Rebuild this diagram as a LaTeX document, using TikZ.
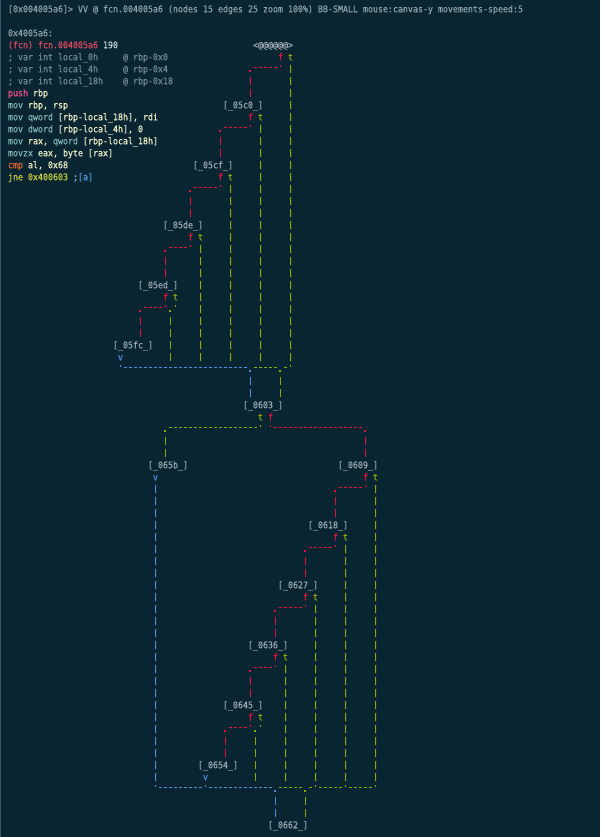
\documentclass[tikz,border=0pt]{standalone}
\usepackage{fontspec}
\newfontfamily\rzmono{DejaVu Sans Mono}[FakeStretch=0.9027,FakeBold=0.4]
\definecolor{bgc}{HTML}{0A2532}
\definecolor{edgec}{HTML}{35596A}
\definecolor{titlec}{HTML}{8FA0A8}
\definecolor{nodegrey}{HTML}{9AA8B0}
\definecolor{commentc}{HTML}{718791}
\definecolor{fcnc}{HTML}{D9485E}
\definecolor{numc}{HTML}{C8D2D6}
\definecolor{pushc}{HTML}{F0508C}
\definecolor{opc}{HTML}{EEF0C8}
\definecolor{movc}{HTML}{7DB3B0}
\definecolor{cmpc}{HTML}{E0622A}
\definecolor{jnec}{HTML}{C4CE3C}
\definecolor{semic}{HTML}{6CB8E8}
\definecolor{refc}{HTML}{4AA2E0}
\definecolor{redc}{HTML}{E0143E}
\definecolor{greenc}{HTML}{8EAA06}
\definecolor{bluec}{HTML}{4A8EDC}
\newcommand\rzH[4]{\draw[#1,hdl] ({#3-0.5},{#2-0.125}) -- ({#4+0.5},{#2-0.125});}
\newcommand\rzDot[3]{\fill[#1] ({#2-0.3},{#3+0.083}) rectangle ({#2+0.1},{#3+0.25});}
\newcommand\rzTick[3]{\draw[#1,tkl] (#2,{#3-0.333}) -- (#2,{#3-0.167});}
\begin{document}
\begin{tikzpicture}[x=5pt,y=-12pt,
  cell/.style={inner sep=0pt,outer sep=0pt,text height=9.25pt,text depth=2.75pt,anchor=north west,font=\rzmono\fontsize{9.2}{12}\selectfont},
  blk/.style={cell,text=nodegrey},
  fl/.style={cell,text=redc},
  tl/.style={cell,text=greenc},
  vl/.style={cell,text=bluec},
  hdl/.style={line width=1pt,dash pattern=on 3.5pt off 1.5pt,dash phase=4.25pt},
  vdl/.style={line width=1pt,dash pattern=on 8pt off 4pt,dash phase=10pt},
  tkl/.style={line width=1pt}]
\useasboundingbox (-2.1,-0.75) rectangle (117.9,69);
\fill[bgc] (-2.1,-0.75) rectangle (117.9,69);
\draw[edgec,line width=1pt] (-2,-0.75) -- (-2,69);
% header (current block)
\node[cell,text=titlec] (h0) at (-0.5,-0.5) {[0x004005a6]> VV @ fcn.004005a6 (nodes 15 edges 25 zoom 100\%) BB-SMALL mouse:canvas-y movements-speed:5};
\node[cell,text=titlec] (h2) at (-0.5,1.5) {0x4005a6:};
\node[cell] (h3) at (-0.5,2.5) {\color{fcnc}(fcn) fcn.004005a6 \color{numc}190};
\node[cell,text=commentc] (h4a) at (-0.5,3.5) {; var int local\_0h};
\node[cell,text=commentc] (h4b) at (22.5,3.5) {@ rbp-0x0};
\node[cell,text=commentc] (h5a) at (-0.5,4.5) {; var int local\_4h};
\node[cell,text=commentc] (h5b) at (22.5,4.5) {@ rbp-0x4};
\node[cell,text=commentc] (h6a) at (-0.5,5.5) {; var int local\_18h};
\node[cell,text=commentc] (h6b) at (22.5,5.5) {@ rbp-0x18};
\node[cell] (h7) at (-0.5,6.5) {\color{pushc}push \color{opc}rbp};
\node[cell] (h8) at (-0.5,7.5) {\color{movc}mov \color{opc}rbp, rsp};
\node[cell] (h9) at (-0.5,8.5) {\color{movc}mov qword \color{opc}[rbp-local\_18h], rdi};
\node[cell] (h10) at (-0.5,9.5) {\color{movc}mov dword \color{opc}[rbp-local\_4h], 0};
\node[cell] (h11) at (-0.5,10.5) {\color{movc}mov \color{opc}rax, \color{movc}qword \color{opc}[rbp-local\_18h]};
\node[cell] (h12) at (-0.5,11.5) {\color{movc}movzx \color{opc}eax, byte [rax]};
\node[cell] (h13) at (-0.5,12.5) {\color{cmpc}cmp \color{opc}al, 0x68};
\node[cell] (h14) at (-0.5,13.5) {\color{jnec}jne 0x400603 \color{semic};\color{refc}[a]};
% graph nodes
\node[blk] (top) at (48.5,2.5) {<@@@@@@>};
\node[fl] (ftop) at (53.5,3.5) {f}; \node[tl] (ttop) at (55.5,3.5) {t};
\node[blk] (b05c0) at (42.5,7.5) {[\_05c0\_]};
\node[fl] (f05c0) at (47.5,8.5) {f}; \node[tl] (t05c0) at (49.5,8.5) {t};
\node[blk] (b05cf) at (36.5,12.5) {[\_05cf\_]};
\node[fl] (f05cf) at (41.5,13.5) {f}; \node[tl] (t05cf) at (43.5,13.5) {t};
\node[blk] (b05de) at (30.5,17.5) {[\_05de\_]};
\node[fl] (f05de) at (35.5,18.5) {f}; \node[tl] (t05de) at (37.5,18.5) {t};
\node[blk] (b05ed) at (25.5,22.5) {[\_05ed\_]};
\node[fl] (f05ed) at (30.5,23.5) {f}; \node[tl] (t05ed) at (32.5,23.5) {t};
\node[blk] (b05fc) at (20.5,27.5) {[\_05fc\_]};
\node[vl] (v05fc) at (21.5,28.5) {v};
\node[blk] (b0603) at (46.5,32.5) {[\_0603\_]};
\node[tl] (t0603) at (49.5,33.5) {t}; \node[fl] (f0603) at (51.5,33.5) {f};
\node[blk] (b065b) at (27.5,37.5) {[\_065b\_]};
\node[vl] (v065b) at (28.5,38.5) {v};
\node[blk] (b0609) at (65.5,37.5) {[\_0609\_]};
\node[fl] (f0609) at (70.5,38.5) {f}; \node[tl] (t0609) at (72.5,38.5) {t};
\node[blk] (b0618) at (59.5,42.5) {[\_0618\_]};
\node[fl] (f0618) at (64.5,43.5) {f}; \node[tl] (t0618) at (66.5,43.5) {t};
\node[blk] (b0627) at (53.5,47.5) {[\_0627\_]};
\node[fl] (f0627) at (58.5,48.5) {f}; \node[tl] (t0627) at (60.5,48.5) {t};
\node[blk] (b0636) at (47.5,52.5) {[\_0636\_]};
\node[fl] (f0636) at (52.5,53.5) {f}; \node[tl] (t0636) at (54.5,53.5) {t};
\node[blk] (b0645) at (42.5,57.5) {[\_0645\_]};
\node[fl] (f0645) at (47.5,58.5) {f}; \node[tl] (t0645) at (49.5,58.5) {t};
\node[blk] (b0654) at (37.5,62.5) {[\_0654\_]};
\node[vl] (v0654) at (38.5,63.5) {v};
\node[blk] (b0662) at (51.5,67.5) {[\_0662\_]};
% upper false edges
\draw[redc,tkl] (ftop.south) ++(0,0.167) -- ++(0,0.166);
\rzH{redc}{5}{49}{53}
\rzDot{redc}{48}{5}
\draw[redc,vdl] (48,5.5) -- (48,0 |- b05c0.north);
\draw[redc,tkl] (f05c0.south) ++(0,0.167) -- ++(0,0.166);
\rzH{redc}{10}{43}{47}
\rzDot{redc}{42}{10}
\draw[redc,vdl] (42,10.5) -- (42,0 |- b05cf.north);
\draw[redc,tkl] (f05cf.south) ++(0,0.167) -- ++(0,0.166);
\rzH{redc}{15}{37}{41}
\rzDot{redc}{36}{15}
\draw[redc,vdl] (36,15.5) -- (36,0 |- b05de.north);
\draw[redc,tkl] (f05de.south) ++(0,0.167) -- ++(0,0.166);
\rzH{redc}{20}{32}{35}
\rzDot{redc}{31}{20}
\draw[redc,vdl] (31,20.5) -- (31,0 |- b05ed.north);
\draw[redc,tkl] (f05ed.south) ++(0,0.167) -- ++(0,0.166);
\rzH{redc}{25}{27}{30}
\rzDot{redc}{26}{25}
\draw[redc,vdl] (26,25.5) -- (26,0 |- b05fc.north);
% upper true edges
\draw[greenc,vdl] (ttop.south) -- (56,29.5);
\rzTick{greenc}{56}{30}
\draw[greenc,vdl] (t05c0.south) -- (50,29.5);
\draw[greenc,vdl] (t05cf.south) -- (44,29.5);
\draw[greenc,vdl] (t05de.south) -- (38,29.5);
\draw[greenc,tkl] (t05ed.south) ++(0,0.167) -- ++(0,0.166);
\rzDot{greenc}{32}{25}
\draw[greenc,vdl] (32,25.5) -- (32,29.5);
\rzH{greenc}{30}{49}{53}
\rzH{greenc}{30}{55}{55}
\rzDot{greenc}{54}{30}
\draw[greenc,vdl] (54,30.5) -- (54,0 |- b0603.north);
% upper unconditional edge
\draw[bluec,tkl] (v05fc.south) ++(0,0.167) -- ++(0,0.166);
\rzH{bluec}{30}{23}{47}
\rzDot{bluec}{48}{30}
\draw[bluec,vdl] (48,30.5) -- (48,0 |- b0603.north);
% 0603
\draw[greenc,tkl] (t0603.south) ++(0,0.167) -- ++(0,0.166);
\rzH{greenc}{35}{32}{49}
\rzDot{greenc}{31}{35}
\draw[greenc,vdl] (31,35.5) -- (31,0 |- b065b.north);
\draw[redc,tkl] (f0603.south) ++(0,0.167) -- ++(0,0.166);
\rzH{redc}{35}{53}{70}
\rzDot{redc}{71}{35}
\draw[redc,vdl] (71,35.5) -- (71,0 |- b0609.north);
% 065b
\draw[bluec,vdl] (v065b.south) -- (29,64.5);
\rzTick{bluec}{29}{65}
% 0609
\draw[redc,tkl] (f0609.south) ++(0,0.167) -- ++(0,0.166);
\rzH{redc}{40}{66}{70}
\rzDot{redc}{65}{40}
\draw[redc,vdl] (65,40.5) -- (65,0 |- b0618.north);
\draw[greenc,vdl] (t0609.south) -- (73,64.5);
\rzTick{greenc}{73}{65}
% 0618
\draw[redc,tkl] (f0618.south) ++(0,0.167) -- ++(0,0.166);
\rzH{redc}{45}{60}{64}
\rzDot{redc}{59}{45}
\draw[redc,vdl] (59,45.5) -- (59,0 |- b0627.north);
\draw[greenc,vdl] (t0618.south) -- (67,64.5);
\rzTick{greenc}{67}{65}
% 0627
\draw[redc,tkl] (f0627.south) ++(0,0.167) -- ++(0,0.166);
\rzH{redc}{50}{54}{58}
\rzDot{redc}{53}{50}
\draw[redc,vdl] (53,50.5) -- (53,0 |- b0636.north);
\draw[greenc,vdl] (t0627.south) -- (61,64.5);
\rzTick{greenc}{61}{65}
% 0636
\draw[redc,tkl] (f0636.south) ++(0,0.167) -- ++(0,0.166);
\rzH{redc}{55}{49}{52}
\rzDot{redc}{48}{55}
\draw[redc,vdl] (48,55.5) -- (48,0 |- b0645.north);
\draw[greenc,vdl] (t0636.south) -- (55,64.5);
% 0645
\draw[redc,tkl] (f0645.south) ++(0,0.167) -- ++(0,0.166);
\rzH{redc}{60}{44}{47}
\rzDot{redc}{43}{60}
\draw[redc,vdl] (43,60.5) -- (43,0 |- b0654.north);
\draw[greenc,tkl] (t0645.south) ++(0,0.167) -- ++(0,0.166);
\rzDot{greenc}{49}{60}
\draw[greenc,vdl] (49,60.5) -- (49,64.5);
% 0654
\draw[bluec,tkl] (v0654.south) ++(0,0.167) -- ++(0,0.166);
% merge into 0662
\rzH{bluec}{65}{30}{38}
\rzH{bluec}{65}{40}{52}
\rzDot{bluec}{53}{65}
\draw[bluec,vdl] (53,65.5) -- (53,0 |- b0662.north);
\rzH{greenc}{65}{54}{58}
\rzDot{greenc}{59}{65}
\rzH{greenc}{65}{60}{60}
\rzH{greenc}{65}{62}{66}
\rzH{greenc}{65}{68}{72}
\draw[greenc,vdl] (59,65.5) -- (59,0 |- b0662.north);
\end{tikzpicture}
\end{document}
